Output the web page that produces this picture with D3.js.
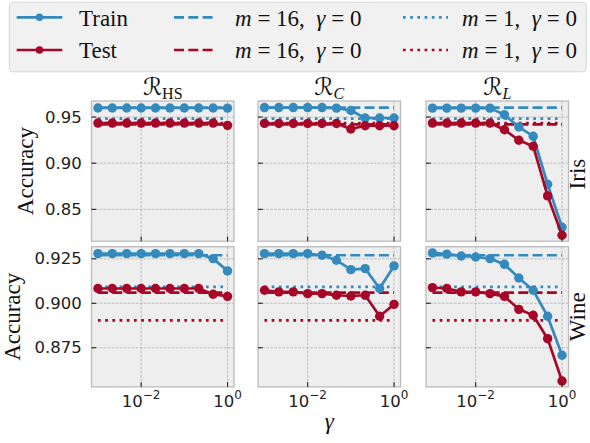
<!DOCTYPE html>
<html><head><meta charset="utf-8">
<script src="https://cdn.jsdelivr.net/npm/d3@7"></script>
<style>body{margin:0;background:#fff}</style></head>
<body><svg id="c" width="590" height="443"></svg>
<script>
// ---------------- data ----------------
const gammas = [0.001, 0.00215, 0.00464, 0.01, 0.0215, 0.0464, 0.1, 0.215, 0.464, 1];
const datasets = ["Iris", "Wine"];
const regularizers = ["HS", "C", "L"];

const irisTrainHS = [0.9598, 0.9598, 0.9598, 0.9598, 0.9598, 0.9598, 0.9598, 0.9598, 0.9598, 0.9597];
const irisTestHS  = [0.9435, 0.9435, 0.9435, 0.9435, 0.9435, 0.9435, 0.9435, 0.9435, 0.9435, 0.9410];
const irisTrainC  = [0.9603, 0.9603, 0.9603, 0.9603, 0.9603, 0.9597, 0.9571, 0.9490, 0.9490, 0.9490];
const irisTestC   = [0.9432, 0.9430, 0.9430, 0.9430, 0.9430, 0.9430, 0.9371, 0.9406, 0.9406, 0.9406];
const irisTrainL  = [0.9597, 0.9597, 0.9597, 0.9597, 0.9597, 0.9525, 0.9393, 0.9292, 0.8772, 0.8306];
const irisTestL   = [0.9435, 0.9435, 0.9435, 0.9435, 0.9435, 0.9363, 0.9249, 0.9184, 0.8646, 0.8220];

const wineTrainHS = [0.9279, 0.9279, 0.9279, 0.9279, 0.9279, 0.9279, 0.9279, 0.9279, 0.9251, 0.9182];
const wineTestHS  = [0.9083, 0.9083, 0.9083, 0.9083, 0.9083, 0.9083, 0.9083, 0.9083, 0.9051, 0.9039];
const wineTrainC  = [0.9279, 0.9279, 0.9279, 0.9279, 0.9270, 0.9242, 0.9189, 0.9195, 0.9083, 0.9210];
const wineTestC   = [0.9073, 0.9064, 0.9064, 0.9054, 0.9054, 0.9045, 0.9041, 0.9045, 0.8927, 0.8994];
const wineTrainL  = [0.9283, 0.9276, 0.9266, 0.9260, 0.9251, 0.9219, 0.9142, 0.9073, 0.8927, 0.8708];
const wineTestL   = [0.9088, 0.9083, 0.9064, 0.9064, 0.9054, 0.9039, 0.8966, 0.8933, 0.8801, 0.8563];

// baselines (gamma = 0): [train m=16, test m=16, train m=1, test m=1]
const irisBaselines = [0.9602, 0.9421, 0.9483, 0.9434];
const wineBaselines = [0.9270, 0.9060, 0.9092, 0.8904];

const yTickValues = [[0.85, 0.90, 0.95], [0.875, 0.900, 0.925]];
const xTickValues = [0.01, 1];
const xTickExponents = ["\u22122", "0"];
const legendLabels = ["Train", "Test"];

// ---------------- layout ----------------
const series = {
  Iris: {HS: [irisTrainHS, irisTestHS], C: [irisTrainC, irisTestC], L: [irisTrainL, irisTestL]},
  Wine: {HS: [wineTrainHS, wineTestHS], C: [wineTrainC, wineTestC], L: [wineTrainL, wineTestL]}
};
const baselines = {Iris: irisBaselines, Wine: wineBaselines};

const blue = "#348ABD", red = "#A60628";
const colors = [blue, red];
const serif = "'Liberation Serif', serif";
const sans = "'DejaVu Sans', sans-serif";
const LW = 2.7;

const svg = d3.select("#c");
const colX = [91.5, 258, 426], rowY = [101, 246.7], pw = 142.5, ph = 140.2;
const x = d3.scaleLog().domain([Math.pow(10, -3.15), Math.pow(10, 0.15)]).range([0, pw]);
const yDomains = [[0.8155, 0.9674], [0.853, 0.9318]];
const yFormats = [d3.format(".2f"), d3.format(".3f")];

// ---------------- legend ----------------
const lg = svg.append("g");
lg.append("rect").attr("x", 9.3).attr("y", 2.3).attr("width", 577).attr("height", 69.5)
  .attr("rx", 3.5).attr("fill", "#f1f1f1").attr("stroke", "#d6d6d6").attr("stroke-width", 1);
const rowsLY = [17.3, 50];
const rowsTY = [26, 58.3];
[0, 1].forEach(i => {
  const yy = rowsLY[i];
  lg.append("line").attr("x1", 16.7).attr("x2", 62.3).attr("y1", yy).attr("y2", yy)
    .attr("stroke", colors[i]).attr("stroke-width", LW);
  lg.append("circle").attr("cx", 39.5).attr("cy", yy).attr("r", 3.8).attr("fill", colors[i]);
  lg.append("text").attr("x", 79).attr("y", rowsTY[i]).style("font-family", serif)
    .attr("font-size", 23).attr("fill", "#111").text(legendLabels[i]);
  // dashed
  lg.append("line").attr("x1", 174).attr("x2", 214).attr("y1", yy).attr("y2", yy)
    .attr("stroke", colors[i]).attr("stroke-width", LW).attr("stroke-dasharray", "10,4.3");
  // dotted
  lg.append("line").attr("x1", 403).attr("x2", 448).attr("y1", yy).attr("y2", yy)
    .attr("stroke", colors[i]).attr("stroke-width", LW).attr("stroke-dasharray", "2.7,4.5");
  [[235, "16"], [462, "1"]].forEach(([tx, mval]) => {
    const t = lg.append("text").attr("x", tx).attr("y", rowsTY[i]).style("font-family", serif)
      .attr("font-size", 23).attr("fill", "#111").style("white-space", "pre");
    t.append("tspan").attr("font-style", "italic").text("m");
    t.append("tspan").text(" = " + mval + ",  ");
    t.append("tspan").attr("font-style", "italic").text("\u03b3");
    t.append("tspan").text(" = 0");
  });
});

// ---------------- panels ----------------
datasets.forEach((ds, ri) => {
  const y = d3.scaleLinear().domain(yDomains[ri]).range([ph, 0]);
  regularizers.forEach((rg, ci) => {
    const g = svg.append("g").attr("transform", `translate(${colX[ci]},${rowY[ri]})`);
    g.append("rect").attr("width", pw).attr("height", ph).attr("fill", "#eeeeee");
    // grid
    yTickValues[ri].forEach(v => {
      g.append("line").attr("x1", 0).attr("x2", pw).attr("y1", y(v)).attr("y2", y(v))
        .attr("stroke", "#b2b2b2").attr("stroke-width", 0.8).attr("stroke-dasharray", "2.8,1.2");
    });
    xTickValues.forEach(v => {
      g.append("line").attr("x1", x(v)).attr("x2", x(v)).attr("y1", 0).attr("y2", ph)
        .attr("stroke", "#b2b2b2").attr("stroke-width", 0.8).attr("stroke-dasharray", "2.8,1.2");
    });
    // baselines
    const bl = baselines[ds];
    const bstyle = [["10,4.3", blue], ["10,4.3", red], ["2.7,4.5", blue], ["2.7,4.5", red]];
    bl.forEach((v, k) => {
      g.append("line").attr("x1", x(gammas[0])).attr("x2", x(gammas[gammas.length - 1]))
        .attr("y1", y(v)).attr("y2", y(v)).attr("stroke", bstyle[k][1])
        .attr("stroke-width", LW).attr("stroke-dasharray", bstyle[k][0]);
    });
    // data
    const line = d3.line().x((d, i) => x(gammas[i])).y(d => y(d));
    series[ds][rg].forEach((vals, k) => {
      g.append("path").attr("d", line(vals)).attr("fill", "none")
        .attr("stroke", colors[k]).attr("stroke-width", LW).attr("stroke-linejoin", "round");
      g.selectAll(null).data(vals).enter().append("circle")
        .attr("cx", (d, i) => x(gammas[i])).attr("cy", d => y(d)).attr("r", 4.7)
        .attr("fill", colors[k]);
    });
    // spines
    g.append("rect").attr("width", pw).attr("height", ph).attr("fill", "none")
      .attr("stroke", "#bcbcbc").attr("stroke-width", 1.3);
    // ticks (inward)
    yTickValues[ri].forEach(v => {
      g.append("line").attr("x1", 0).attr("x2", 4.7).attr("y1", y(v)).attr("y2", y(v))
        .attr("stroke", "#222").attr("stroke-width", 1.1);
    });
    xTickValues.forEach(v => {
      g.append("line").attr("x1", x(v)).attr("x2", x(v)).attr("y1", ph).attr("y2", ph - 4.7)
        .attr("stroke", "#222").attr("stroke-width", 1.1);
    });
    // y tick labels
    if (ci === 0) {
      yTickValues[ri].forEach(v => {
        g.append("text").attr("x", -9.8).attr("y", y(v)).attr("text-anchor", "end")
          .attr("dominant-baseline", "central").style("font-family", sans)
          .attr("font-size", 16.5).attr("fill", "#222").text(yFormats[ri](v));
      });
    }
    // x tick labels
    if (ri === 1) {
      xTickValues.forEach((v, k) => {
        const t = g.append("text").attr("x", x(v)).attr("y", 160).attr("text-anchor", "middle")
          .style("font-family", sans).attr("font-size", 16.5).attr("fill", "#222");
        t.append("tspan").text("10");
        t.append("tspan").attr("dy", -7.5).attr("font-size", 12).text(xTickExponents[k]);
      });
    }
    // titles
    if (ri === 0) {
      const t = g.append("text").attr("x", pw / 2).attr("y", -6).attr("text-anchor", "middle")
        .style("font-family", serif).attr("font-size", 23).attr("fill", "#111");
      t.append("tspan").style("font-family", "'DejaVu Serif', 'DejaVu Sans'").attr("font-size", 24).text("\u211b");
      t.append("tspan").attr("dy", 4).attr("font-size", 16)
        .attr("font-style", rg === "HS" ? "normal" : "italic").text(rg);
    }
    // right labels
    if (ci === 2) {
      g.append("text").attr("transform", `translate(${585 - colX[2]},${ph / 2 + (ri === 0 ? 3 : 0)}) rotate(-90)`)
        .attr("text-anchor", "middle").style("font-family", serif).attr("font-size", 23)
        .attr("fill", "#111").text(ds);
    }
    // left labels
    if (ci === 0) {
      const bx = ri === 0 ? 33 : 20;
      g.append("text").attr("transform", `translate(${bx - colX[0]},${ph / 2}) rotate(-90)`)
        .attr("text-anchor", "middle").style("font-family", serif).attr("font-size", 23)
        .attr("fill", "#111").text("Accuracy");
    }
  });
});

// x axis label
svg.append("text").attr("x", colX[1] + pw / 2).attr("y", 429).attr("text-anchor", "middle")
  .style("font-family", serif).attr("font-style", "italic").attr("font-size", 23).attr("fill", "#111")
  .text("\u03b3");
</script>
</body></html>
